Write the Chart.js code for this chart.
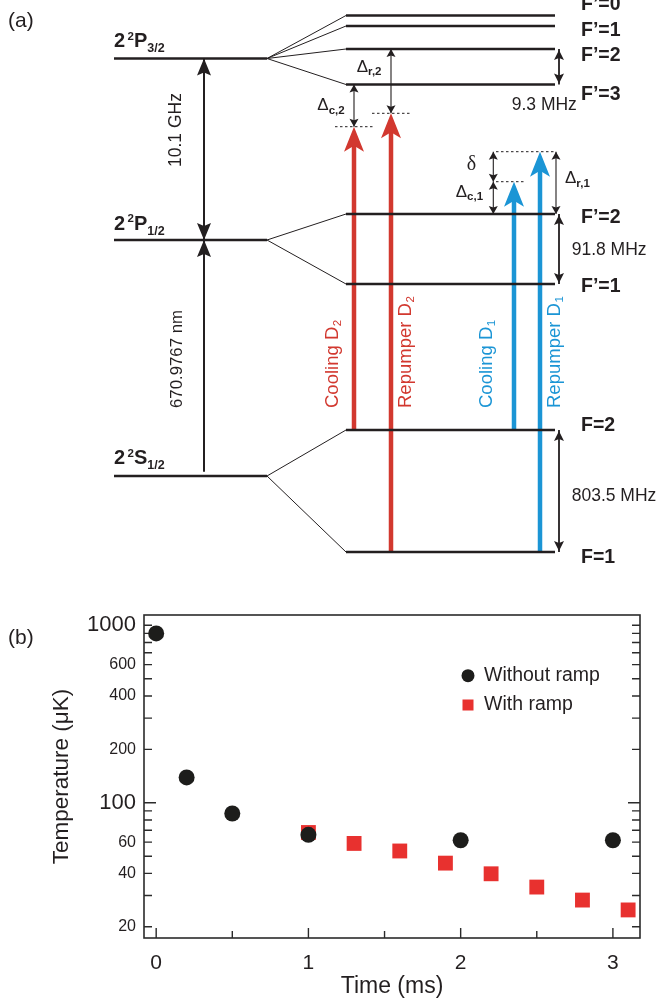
<!DOCTYPE html>
<html>
<head>
<meta charset="utf-8">
<script src="https://cdn.jsdelivr.net/npm/chart.js@4.4.1/dist/chart.umd.min.js"></script>
<style>
  body { margin: 0; background: #fff; }
  canvas { display: block; }
</style>
</head>
<body>
<canvas id="levels" width="659" height="590"></canvas>
<canvas id="temps" width="659" height="413"></canvas>
<script>
const FONT = "'Liberation Sans', Arial, sans-serif";
const INK = '#231f20';
const RED = '#d2382f';
const BLUE = '#1b95d5';

// ---- (a) level scheme, in diagram units (0..659 across, 0..590 down) ----
const fineNames = [['P', '3/2'], ['P', '1/2'], ['S', '1/2']];
const fineY = [58.5, 240, 476];
const hfNames = ['F’=0', 'F’=1', 'F’=2', 'F’=3', 'F’=2', 'F’=1', 'F=2', 'F=1'];
const hfParent = [0, 0, 0, 0, 1, 1, 2, 2];
const hfY = [15.5, 26, 49, 84.5, 214, 284, 430, 552];
const hfLabelY = [10, 36, 61, 100, 222.7, 291.7, 430.7, 563];

const laserNames = ['Cooling D', 'Repumper D', 'Cooling D', 'Repumper D'];
const laserLines = ['2', '2', '1', '1'];
const laserFrom = [6, 7, 6, 7];
const laserTop = [126.7, 113.3, 181.7, 151.7];
const laserX = [354, 391, 514, 540];
const laserTextX = [338, 411, 492, 560];
const dotSpan = [[335, 373], [372, 411], [496, 525], [496, 555]];

const splitNames = ['9.3 MHz', '91.8 MHz', '803.5 MHz'];
const splitPairs = [[2, 3], [4, 5], [6, 7]];
const splitText = [[511.7, 109.5], [571.7, 254.5], [571.7, 501]];

const detNames = ['c,2', 'r,2', 'δ', 'c,1', 'r,1'];
const detX = [354, 391, 493.3, 493.3, 556];
const detTop = [84.5, 49, 151.7, 181.7, 151.7];
const detBottom = [126.7, 113.3, 181.7, 214, 214];
const detText = [[317.3, 110], [356.7, 71.7], [466.7, 170], [455.7, 196.7], [565, 183.3]];

// ---- (b) temperature vs time ----
const timeWithout = [0, 0.2, 0.5, 1, 2, 3];
const tempWithout = [900, 139, 87, 66, 61.5, 61.5];
const timeWith = [1, 1.3, 1.6, 1.9, 2.2, 2.5, 2.8, 3.1];
const tempWith = [68, 59, 53.5, 45.7, 39.8, 33.5, 28.3, 24.9];
const timeTicks = [0, 1, 2, 3];
const timeMinor = [0.5, 1.5, 2.5];
const tempTicks = [20, 40, 60, 100, 200, 400, 600, 1000];
const tempMinor = [30, 50, 70, 80, 90, 300, 500, 700, 800, 900];

function seg(x0, y0, x1, y1, color, width, dash) {
    return {
        data: [{x: x0, y: y0}, {x: x1, y: y1}],
        showLine: true, borderColor: color, borderWidth: width,
        borderDash: dash || [], pointRadius: 0, fill: false
    };
}

// filled arrow head; dir = 1 points up (base below tip), -1 points down
function head(ctx, x, tip, dir, len, hw, notch) {
    const b = tip + dir * len;
    ctx.beginPath();
    ctx.moveTo(x, tip);
    ctx.lineTo(x - hw, b);
    ctx.lineTo(x, b - dir * notch);
    ctx.lineTo(x + hw, b);
    ctx.closePath();
    ctx.fill();
}

const levelSets = [];
fineY.forEach(v => levelSets.push(seg(114, v, 267, v, INK, 2.5)));
hfY.forEach((v, i) => {
    levelSets.push(seg(346, v, 555, v, INK, 2.5));
    levelSets.push(seg(267, fineY[hfParent[i]], 346, v, INK, 1));
});
levelSets.push(seg(204, fineY[0], 204, fineY[1], INK, 2));
levelSets.push(seg(204, 471.7, 204, fineY[1], INK, 2));
splitPairs.forEach(p => levelSets.push(seg(559, hfY[p[0]], 559, hfY[p[1]], INK, 1.8)));
detX.forEach((x, i) => levelSets.push(seg(x, detTop[i], x, detBottom[i], INK, 1.1)));
laserX.forEach((x, i) => levelSets.push(seg(x, hfY[laserFrom[i]], x, laserTop[i] + 18, i < 2 ? RED : BLUE, 4.5)));
dotSpan.forEach((s, i) => levelSets.push(seg(s[0], laserTop[i], s[1], laserTop[i], INK, 1, [2.5, 2.5])));

const levelPlugin = {
    id: 'levelScheme',
    afterDatasetsDraw(chart) {
        const ctx = chart.ctx;
        const X = v => chart.scales.x.getPixelForValue(v);
        const Y = v => chart.scales.y.getPixelForValue(v);
        ctx.save();

        laserX.forEach((x, i) => {
            ctx.fillStyle = i < 2 ? RED : BLUE;
            head(ctx, X(x), Y(laserTop[i]), 1, 25, 10, 6);
        });
        ctx.fillStyle = INK;
        head(ctx, X(204), Y(fineY[0]), 1, 17, 7, 3);
        head(ctx, X(204), Y(fineY[1]), -1, 17, 7, 3);
        head(ctx, X(204), Y(fineY[1]), 1, 17, 7, 3);
        splitPairs.forEach(p => {
            head(ctx, X(559), Y(hfY[p[0]]) + 1, 1, 10, 5, 2);
            head(ctx, X(559), Y(hfY[p[1]]) - 1, -1, 10, 5, 2);
        });
        detX.forEach((x, i) => {
            head(ctx, X(x), Y(detTop[i]), 1, 8, 4.5, 1.5);
            head(ctx, X(x), Y(detBottom[i]), -1, 8, 4.5, 1.5);
        });

        // panel label
        ctx.textBaseline = 'alphabetic';
        ctx.textAlign = 'left';
        ctx.font = '21px ' + FONT;
        ctx.fillText('(a)', 8, 27);

        // fine-structure labels 2 ^2 L_J
        const fineBase = [47, 229.5, 464];
        fineNames.forEach((n, i) => {
            const b = Y(fineBase[i]);
            let x = X(114);
            ctx.font = 'bold 20px ' + FONT;
            ctx.fillText('2', x, b);
            x += ctx.measureText('2').width + 2.5;
            ctx.font = 'bold 11.5px ' + FONT;
            ctx.fillText('2', x, b - 7.5);
            x += ctx.measureText('2').width;
            ctx.font = 'bold 20px ' + FONT;
            ctx.fillText(n[0], x, b);
            x += ctx.measureText(n[0]).width;
            ctx.font = 'bold 12.5px ' + FONT;
            ctx.fillText(n[1], x, b + 5);
        });

        // hyperfine labels
        ctx.font = 'bold 19.5px ' + FONT;
        hfNames.forEach((n, i) => ctx.fillText(n, X(581), Y(hfLabelY[i])));

        // splittings
        ctx.font = '17.5px ' + FONT;
        splitNames.forEach((n, i) => ctx.fillText(n, X(splitText[i][0]), Y(splitText[i][1])));

        // detunings
        detNames.forEach((n, i) => {
            const x = X(detText[i][0]), b = Y(detText[i][1]);
            if (n === 'δ') {
                ctx.font = "20px 'Liberation Serif', serif";
                ctx.fillText(n, x, b);
                return;
            }
            ctx.font = '17px ' + FONT;
            ctx.fillText('Δ', x, b);
            const w = ctx.measureText('Δ').width;
            ctx.font = 'bold 11.5px ' + FONT;
            ctx.fillText(n, x + w, b + 3.5);
        });

        // vertical labels
        ctx.textAlign = 'center';
        ctx.textBaseline = 'middle';
        [['10.1 GHz', 175.7, 130, 17.5], ['670.9767 nm', 177.5, 359, 16.8]].forEach(t => {
            ctx.save();
            ctx.translate(X(t[1]), Y(t[2]));
            ctx.rotate(-Math.PI / 2);
            ctx.font = t[3] + 'px ' + FONT;
            ctx.fillText(t[0], 0, 0);
            ctx.restore();
        });

        ctx.textAlign = 'left';
        ctx.textBaseline = 'alphabetic';
        laserNames.forEach((n, i) => {
            ctx.save();
            ctx.translate(X(laserTextX[i]), Y(408));
            ctx.rotate(-Math.PI / 2);
            ctx.fillStyle = i < 2 ? RED : BLUE;
            ctx.font = '18.5px ' + FONT;
            ctx.fillText(n, 0, 0);
            const w = ctx.measureText(n).width;
            ctx.font = '11.5px ' + FONT;
            ctx.fillText(laserLines[i], w + 0.5, 3);
            ctx.restore();
        });
        ctx.restore();
    }
};

new Chart(document.getElementById('levels'), {
    type: 'scatter',
    data: { datasets: levelSets },
    options: {
        responsive: false,
        animation: false,
        layout: { padding: 0 },
        plugins: { legend: { display: false }, tooltip: { enabled: false } },
        scales: {
            x: { type: 'linear', display: false, min: 0, max: 659 },
            y: { type: 'linear', display: false, min: 0, max: 590, reverse: true }
        }
    },
    plugins: [levelPlugin]
});

const framePlugin = {
    id: 'frameTicks',
    beforeDatasetsDraw(chart) {
        const {ctx, chartArea: a} = chart;
        const xs = chart.scales.x, ys = chart.scales.y;
        ctx.save();
        ctx.strokeStyle = '#2b2b2b';
        ctx.lineWidth = 1.6;
        ctx.strokeRect(a.left, a.top, a.right - a.left, a.bottom - a.top);
        ctx.lineWidth = 1.4;
        ctx.beginPath();
        tempTicks.concat(tempMinor).forEach(v => {
            const y = ys.getPixelForValue(v);
            const len = v === 100 ? 12 : 8;
            ctx.moveTo(a.left, y); ctx.lineTo(a.left + len, y);
            ctx.moveTo(a.right, y); ctx.lineTo(a.right - len, y);
        });
        timeTicks.forEach(v => {
            const x = xs.getPixelForValue(v);
            ctx.moveTo(x, a.bottom); ctx.lineTo(x, a.bottom - 10);
        });
        timeMinor.forEach(v => {
            const x = xs.getPixelForValue(v);
            ctx.moveTo(x, a.bottom); ctx.lineTo(x, a.bottom - 7);
        });
        ctx.stroke();
        ctx.restore();
    },
    afterDraw(chart) {
        const ctx = chart.ctx;
        ctx.save();
        ctx.fillStyle = INK;
        ctx.font = '21px ' + FONT;
        ctx.textBaseline = 'middle';
        ctx.fillText('(b)', 8, 48);
        // legend
        ctx.font = '19.5px ' + FONT;
        chart.data.datasets.forEach((ds, i) => {
            const y = 85.7 + i * 29.3;
            ctx.fillStyle = ds.backgroundColor;
            if (ds.pointStyle === 'rect') {
                ctx.fillRect(468 - 5.5, y - 5.5, 11, 11);
            } else {
                ctx.beginPath();
                ctx.arc(468, y, 6.5, 0, Math.PI * 2);
                ctx.fill();
            }
            ctx.fillStyle = INK;
            ctx.fillText(ds.label, 484, y);
        });
        ctx.restore();
    }
};

new Chart(document.getElementById('temps'), {
    type: 'scatter',
    data: {
        datasets: [{
            label: 'Without ramp',
            data: timeWithout.map((t, i) => ({x: t, y: tempWithout[i]})),
            pointStyle: 'circle',
            pointRadius: 8,
            backgroundColor: '#1d1d1b',
            pointBorderWidth: 0,
            clip: false
        }, {
            label: 'With ramp',
            data: timeWith.map((t, i) => ({x: t, y: tempWith[i]})),
            pointStyle: 'rect',
            pointRadius: 10.5,
            backgroundColor: '#e8312f',
            pointBorderWidth: 0,
            clip: false
        }]
    },
    options: {
        responsive: false,
        animation: false,
        layout: { padding: { top: 25, right: 19, left: 0, bottom: 0 } },
        plugins: { legend: { display: false }, tooltip: { enabled: false } },
        scales: {
            x: {
                type: 'linear', min: -0.08, max: 3.178,
                afterBuildTicks: s => { s.ticks = timeTicks.map(v => ({value: v})); },
                afterFit: s => { s.height = 65; },
                grid: { display: false }, border: { display: false },
                ticks: { font: { family: FONT, size: 21 }, color: INK, padding: 5, maxRotation: 0, autoSkip: false },
                title: { display: true, text: 'Time (ms)', color: INK,
                         font: { family: FONT, size: 23 }, padding: { top: 0, bottom: 2.5 } }
            },
            y: {
                type: 'logarithmic', min: 17.3, max: 1143,
                afterBuildTicks: s => { s.ticks = tempTicks.map(v => ({value: v})); },
                afterFit: s => { s.width = 144; },
                grid: { display: false }, border: { display: false },
                ticks: {
                    callback: v => String(v),
                    font: c => ({ family: FONT, size: (c.tick && (c.tick.value === 100 || c.tick.value === 1000)) ? 22 : 16 }),
                    color: INK, padding: 0, autoSkip: false
                },
                title: { display: true, text: 'Temperature (μK)', color: INK,
                         font: { family: FONT, size: 22.5 }, padding: { top: 48, bottom: 0 } }
            }
        }
    },
    plugins: [framePlugin]
});
</script>
</body>
</html>
